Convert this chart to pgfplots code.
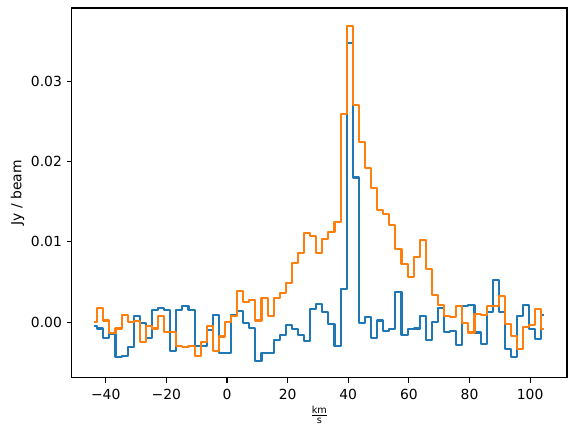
\documentclass[border=0pt]{standalone}
\usepackage{fontspec}
\setmainfont{DejaVu Sans}
\usepackage{amsmath}
\usepackage{pgfplots}
\usepackage{pgfplotstable}
\pgfplotsset{compat=1.18}
\definecolor{mplblue}{HTML}{1F77B4}
\definecolor{mplorange}{HTML}{FF7F0E}
\pgfplotstableread{
v blue orange
-43.80 -0.0005 0.0000
-41.79 -0.0008 0.0018
-39.79 -0.0020 0.0002
-37.78 -0.0015 -0.0014
-35.77 -0.0044 -0.0008
-33.77 -0.0042 0.0009
-31.76 -0.0031 0.0000
-29.75 0.0007 0.0001
-27.74 -0.0001 -0.0025
-25.74 -0.0020 -0.0005
-23.73 0.0015 -0.0008
-21.72 0.0018 0.0008
-19.72 0.0015 -0.0012
-17.71 -0.0036 -0.0012
-15.70 0.0015 -0.0030
-13.70 0.0020 -0.0031
-11.69 0.0015 -0.0030
-9.68 -0.0030 -0.0042
-7.67 -0.0030 -0.0025
-5.67 -0.0010 -0.0005
-3.66 0.0009 -0.0036
-1.65 -0.0039 -0.0018
0.35 -0.0038 0.0000
2.36 0.0009 0.0008
4.37 0.0014 0.0039
6.38 -0.0001 0.0025
8.38 -0.0007 0.0028
10.39 -0.0049 0.0002
12.40 -0.0038 0.0030
14.40 -0.0039 0.0007
16.41 -0.0022 0.0030
18.42 -0.0016 0.0036
20.42 -0.0004 0.0049
22.43 -0.0009 0.0074
24.44 -0.0016 0.0086
26.45 -0.0024 0.0111
28.45 0.0016 0.0107
30.46 0.0022 0.0086
32.47 0.0013 0.0103
34.47 -0.0002 0.0112
36.48 -0.0030 0.0125
38.49 0.0041 0.0259
40.49 0.0348 0.0369
42.50 0.0180 0.0270
44.51 -0.0001 0.0224
46.52 0.0006 0.0192
48.52 -0.0020 0.0167
50.53 0.0002 0.0140
52.54 -0.0011 0.0135
54.54 -0.0009 0.0121
56.55 0.0038 0.0091
58.56 -0.0016 0.0072
60.56 -0.0009 0.0056
62.57 -0.0008 0.0081
64.58 0.0007 0.0102
66.59 -0.0022 0.0066
68.59 0.0000 0.0034
70.60 0.0017 0.0021
72.61 -0.0012 0.0007
74.61 -0.0011 0.0006
76.62 -0.0029 0.0020
78.63 0.0020 -0.0001
80.63 0.0021 -0.0013
82.64 -0.0013 0.0010
84.65 -0.0027 0.0009
86.66 0.0012 0.0020
88.66 0.0052 0.0020
90.67 0.0012 0.0032
92.68 -0.0033 -0.0002
94.68 -0.0043 -0.0017
96.69 0.0007 -0.0033
98.70 0.0021 -0.0006
100.70 -0.0009 -0.0004
102.71 -0.0021 0.0016
104.72 0.0009 -0.0009
}\spectra
\begin{document}
\begin{tikzpicture}
\begin{axis}[
  scale only axis,
  width=356.6pt, height=266.1pt,
  xmin=-51.23, xmax=112.15,
  ymin=-0.00692, ymax=0.0391,
  xtick={-40,-20,0,20,40,60,80,100},
  xticklabels={−40,−20,0,20,40,60,80,100},
  ytick={0,0.01,0.02,0.03},
  yticklabels={0.00,0.01,0.02,0.03},
  scaled y ticks=false, scaled x ticks=false,
  tick align=outside, xtick pos=bottom, ytick pos=left,
  major tick length=3.5pt,
  tick style={black, line width=0.8pt},
  axis line style={line width=0.8pt},
  tick label style={font=\fontsize{10}{12}\selectfont, text=black},
  xticklabel style={yshift=-1pt},
  xlabel={$\frac{\textrm{km}}{\textrm{s}}$},
  ylabel={Jy / beam},
  label style={font=\fontsize{10}{12}\selectfont, text=black},
  xlabel style={yshift=2pt},
  ylabel style={yshift=-2pt},
]
\addplot[const plot mark mid, mplblue, line width=1.5pt, line join=round] table[x=v, y=blue] {\spectra};
\addplot[const plot mark mid, mplorange, line width=1.5pt, line join=round] table[x=v, y=orange] {\spectra};
\end{axis}
\pgfresetboundingbox
\path (current axis.south west) ++(-51.6pt,-41.3pt) rectangle ++(414.7pt,313.2pt);
\end{tikzpicture}
\end{document}
